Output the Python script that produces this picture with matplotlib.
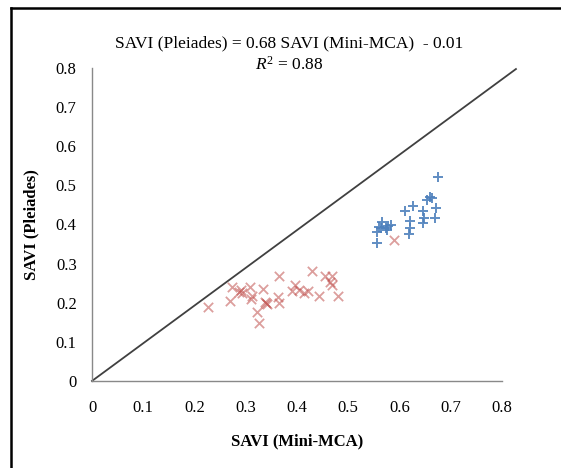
import matplotlib
matplotlib.use("Agg")
from matplotlib import pyplot as plt
from matplotlib.lines import Line2D

plt.rcParams['font.family'] = ['Liberation Serif', 'DejaVu Serif']
plt.rcParams['mathtext.fontset'] = 'custom'
plt.rcParams['mathtext.rm'] = 'Liberation Serif'
plt.rcParams['mathtext.it'] = 'Liberation Serif:italic'

# Mini-MCA vs Pleiades SAVI
red_x = [0.227, 0.269, 0.274, 0.287, 0.290, 0.292, 0.308, 0.312, 0.310, 0.333,
         0.340, 0.338, 0.342, 0.321, 0.325, 0.365, 0.362, 0.365, 0.430, 0.455,
         0.468, 0.464, 0.468, 0.396, 0.390, 0.403, 0.414, 0.422, 0.442, 0.480, 0.590]
red_y = [0.190, 0.205, 0.241, 0.228, 0.232, 0.224, 0.241, 0.216, 0.209, 0.235,
         0.199, 0.202, 0.196, 0.177, 0.149, 0.267, 0.214, 0.200, 0.282, 0.269,
         0.269, 0.254, 0.246, 0.246, 0.231, 0.233, 0.224, 0.231, 0.217, 0.217, 0.361]

blue_x = [0.556, 0.556, 0.559, 0.565, 0.563, 0.574, 0.578, 0.583, 0.575, 0.611,
          0.626, 0.620, 0.620, 0.619, 0.645, 0.648, 0.645, 0.653, 0.663, 0.671,
          0.669, 0.660, 0.674]
blue_y = [0.352, 0.380, 0.394, 0.406, 0.390, 0.390, 0.397, 0.399, 0.386, 0.435,
          0.448, 0.409, 0.390, 0.375, 0.434, 0.417, 0.403, 0.463, 0.467, 0.441,
          0.416, 0.470, 0.520]

# 1:1 line as drawn (runs a bit past the axis end)
line_x = [0, 0.827]
line_y = [0, 0.797]

ticks = [0, 0.1, 0.2, 0.3, 0.4, 0.5, 0.6, 0.7, 0.8]
tick_labels = ['0', '0.1', '0.2', '0.3', '0.4', '0.5', '0.6', '0.7', '0.8']

fig = plt.figure(figsize=(5.61, 4.68), dpi=100)
ax = fig.add_axes([0.164, 0.186, 0.731, 0.669])

ax.plot(line_x, line_y, color='#404040', lw=1.3, clip_on=False, zorder=1)
ax.scatter(red_x, red_y, marker='x', s=45, color='#C0504D', alpha=0.55, linewidths=1.3, zorder=3)
ax.scatter(blue_x, blue_y, marker='+', s=60, color='#4F81BD', alpha=0.9, linewidths=1.4, zorder=3)

ax.set_xlim(0, 0.8); ax.set_ylim(0, 0.8)
ax.set_xticks(ticks); ax.set_xticklabels(tick_labels)
ax.set_yticks(ticks); ax.set_yticklabels(tick_labels)
ax.tick_params(length=0, labelsize=12)
ax.tick_params(axis='x', pad=14)
ax.tick_params(axis='y', pad=11)

for s in ['top', 'right']:
    ax.spines[s].set_visible(False)
for s in ['left', 'bottom']:
    ax.spines[s].set_color('#898989')
    ax.spines[s].set_linewidth(1.0)

ax.set_xlabel('SAVI (Mini-MCA)', fontsize=12, fontweight='bold', labelpad=12)
ax.set_ylabel('SAVI (Pleiades)', fontsize=12, fontweight='bold', labelpad=12)

fig.text(0.515, 0.907, 'SAVI (Pleiades) = 0.68 SAVI (Mini-MCA)  - 0.01', ha='center', va='center', fontsize=12.5)
fig.text(0.515, 0.861, r'$R^2$ = 0.88', ha='center', va='center', fontsize=12.5)

# outer frame (left and top edges only visible)
fig.add_artist(Line2D([11/561, 11/561], [0, 1 - 8/468], color='black', lw=1.8, transform=fig.transFigure))
fig.add_artist(Line2D([11/561, 1], [1 - 8/468, 1 - 8/468], color='black', lw=1.8, transform=fig.transFigure))

fig.savefig('out.png', dpi=100)
